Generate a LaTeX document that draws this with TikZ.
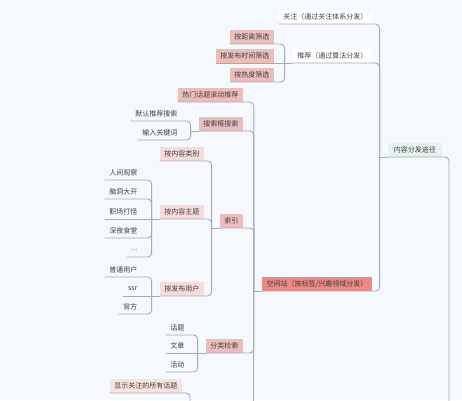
\documentclass[tikz,border=0pt]{standalone}
\usepackage{fontspec}
\newfontfamily\cjk{Noto Sans CJK SC}
\definecolor{bg}{HTML}{F5F8FC}
\definecolor{lnc}{HTML}{A3ABBA}
\definecolor{txt}{HTML}{404040}
\definecolor{pinkA}{HTML}{EBBDBB}
\definecolor{pinkB}{HTML}{F6DCD8}
\definecolor{pinkC}{HTML}{F8E2DE}
\definecolor{redK}{HTML}{EC8985}
\definecolor{mint}{HTML}{E6F2EE}
\tikzset{
  tn/.style={font=\cjk\fontsize{7}{8}\selectfont, text=txt, inner xsep=4.5pt, inner ysep=0pt, minimum height=14pt, anchor=south east},
  lvA/.style={tn, fill=pinkA},
  lvB/.style={tn, fill=pinkB},
  lvC/.style={tn, fill=pinkC},
  lvW/.style={tn, fill=white},
  leaf/.style={tn},
  ln/.style={draw=lnc, line width=0.9pt},
}
\newcommand\mmlink[2]{\draw[ln] (#1.south west) -- (#1.south east) [rounded corners=4pt] -- (#1.south east -| #2b) -- (#2b);}
\newcommand\mmflat[2]{\draw[ln] (#1.south west) -- (#2b);}
\newcommand\mmbr[1]{\coordinate (#1b) at ([xshift=-8pt]#1.south west); \draw[ln] (#1b) -- (#1.south west);}
\begin{document}
\begin{tikzpicture}[x=1pt,y=-1pt]
\fill[bg] (0,0) rectangle (462,400);
\useasboundingbox (0,0) rectangle (462,400);
\clip (0,0) rectangle (462,400);
\coordinate (bot) at (0,412);
\coordinate (rx) at (449,0);
\coordinate (sx) at (190,0);

% nodes
\node[tn, fill=mint, inner xsep=6pt] (fb) at (442,157) {内容分发途径};
\node[lvW] (gz) at (372,24) {关注（通过关注体系分发）};
\node[lvW] (tj) at (372,63) {推荐（通过算法分发）};
\node[tn, fill=redK] (kj) at (372,291) {空间站（按标签/兴趣领域分发）};
\node[lvA] (jl) at (274,44) {按距离筛选};
\node[lvA] (sj) at (274,63) {按发布时间筛选};
\node[lvA] (rd) at (274,82) {按热度筛选};
\node[lvA] (rm) at (243,102) {热门话题滚动推荐};
\node[lvA] (ss) at (243,131) {搜索框搜索};
\node[lvA] (sy) at (243,228) {索引};
\node[lvA] (fl) at (243,353) {分类检索};
\node[leaf] (mr) at (182,121) {默认推荐搜索};
\node[leaf] (sr) at (182,140) {输入关键词};
\node[lvB] (lb) at (204,161) {按内容类别};
\node[lvB] (zt) at (204,219) {按内容主题};
\node[lvB] (yh) at (204,296) {按发布用户};
\node[leaf] (a1) at (142,180) {人间观察};
\node[leaf] (a2) at (142,199) {脑洞大开};
\node[leaf] (a3) at (142,219) {职场打怪};
\node[leaf] (a4) at (142,238) {深夜食堂};
\node[leaf] (a5) at (142,257) {...};
\node[leaf] (u1) at (142,277) {普通用户};
\node[leaf] (u2) at (142,296) {ssr};
\node[leaf] (u3) at (142,314) {官方};
\node[leaf] (c1) at (189,335) {话题};
\node[leaf] (c2) at (189,353) {文章};
\node[leaf] (c3) at (189,372) {活动};
\node[lvC] (xs) at (182,393) {显示关注的所有话题};

% brackets
\mmbr{fb} \mmbr{tj} \mmbr{kj} \mmbr{ss} \mmbr{sy} \mmbr{zt} \mmbr{yh} \mmbr{fl}

% connectors
\mmlink{gz}{fb} \mmlink{tj}{fb} \mmlink{kj}{fb}
\mmlink{jl}{tj} \mmflat{sj}{tj} \mmlink{rd}{tj}
\mmlink{rm}{kj} \mmlink{ss}{kj} \mmlink{sy}{kj} \mmlink{fl}{kj}
\draw[ln] (kjb) -- (kjb |- bot);
\mmlink{mr}{ss} \mmlink{sr}{ss}
\mmlink{lb}{sy} \mmlink{zt}{sy} \mmlink{yh}{sy}
\mmlink{a1}{zt} \mmlink{a2}{zt} \mmflat{a3}{zt} \mmlink{a4}{zt} \mmlink{a5}{zt}
\mmlink{u1}{yh} \mmflat{u2}{yh} \mmlink{u3}{yh}
\mmlink{c1}{fl} \mmflat{c2}{fl} \mmlink{c3}{fl}
\draw[ln] (fb.south west) -- (fb.south east) [rounded corners=4pt] -- (fb.south east -| rx) -- (rx |- bot);
\draw[ln] (xs.south west) -- (xs.south east) [rounded corners=4pt] -- (xs.south east -| sx) -- (sx |- bot);
\end{tikzpicture}
\end{document}
